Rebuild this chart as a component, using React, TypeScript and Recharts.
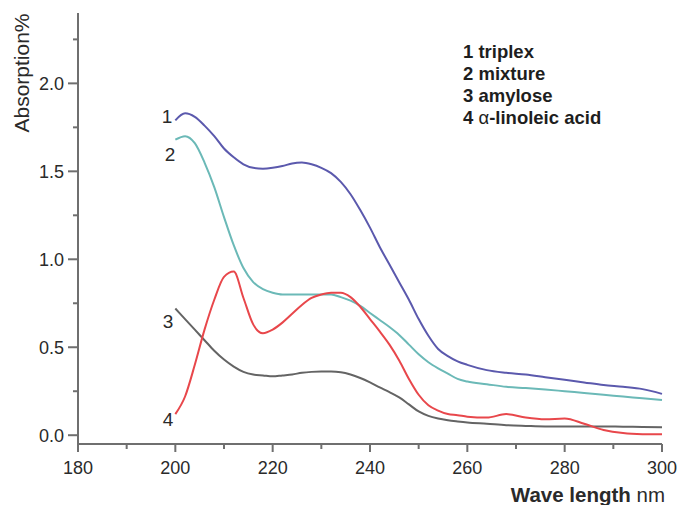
import { LineChart, Line, XAxis, YAxis, Label } from 'recharts';

const FONT = 'Arial, "Liberation Sans", Helvetica, sans-serif';

const wavelengths = [
  200, 202, 204, 206, 208, 210, 212, 214, 216, 218, 220, 222, 224, 226, 228, 230,
  232, 234, 236, 238, 240, 242, 244, 246, 248, 250, 252, 254, 256, 258, 260,
  264, 268, 272, 276, 280, 284, 288, 292, 296, 300,
];

// 1 triplex
const triplex = [
  1.79, 1.83, 1.81, 1.76, 1.7, 1.63, 1.58, 1.54, 1.52, 1.515, 1.52, 1.53, 1.545, 1.55, 1.54, 1.52,
  1.49, 1.44, 1.37, 1.28, 1.18, 1.07, 0.97, 0.87, 0.77, 0.66, 0.565, 0.49, 0.45, 0.42, 0.4,
  0.37, 0.355, 0.345, 0.33, 0.315, 0.3, 0.285, 0.275, 0.262, 0.235,
];

// 2 mixture
const mixture = [
  1.68, 1.7, 1.66, 1.55, 1.41, 1.24, 1.08, 0.95, 0.87, 0.83, 0.81, 0.8, 0.8, 0.8, 0.8, 0.8,
  0.8, 0.785, 0.765, 0.735, 0.695, 0.655, 0.615, 0.57, 0.515, 0.46, 0.415, 0.38, 0.35, 0.32, 0.305,
  0.29, 0.275, 0.268, 0.26, 0.25, 0.24, 0.23, 0.22, 0.21, 0.2,
];

// 3 amylose
const amylose = [
  0.72, 0.66, 0.6, 0.54, 0.48, 0.43, 0.39, 0.36, 0.345, 0.34, 0.335, 0.34, 0.345, 0.355, 0.36, 0.362,
  0.362, 0.358, 0.345, 0.325, 0.3, 0.272, 0.245, 0.215, 0.175, 0.135, 0.11, 0.095, 0.085, 0.078, 0.072,
  0.065, 0.057, 0.053, 0.05, 0.05, 0.05, 0.05, 0.048, 0.047, 0.045,
];

// 4 alpha-linoleic acid
const linoleic = [
  0.12, 0.22, 0.4, 0.6, 0.77, 0.9, 0.93, 0.78, 0.63, 0.58, 0.6, 0.64, 0.69, 0.74, 0.78, 0.8,
  0.81, 0.81, 0.785, 0.73, 0.66, 0.59, 0.515, 0.425, 0.32, 0.23, 0.17, 0.14, 0.12, 0.114, 0.105,
  0.1, 0.12, 0.1, 0.09, 0.095, 0.065, 0.03, 0.012, 0.006, 0.005,
];

const xTicks = [180, 190, 200, 210, 220, 230, 240, 250, 260, 270, 280, 290, 300];
const yTicks = [0, 0.25, 0.5, 0.75, 1, 1.25, 1.5, 1.75, 2, 2.25];

const legendItems = ['1 triplex', '2 mixture', '3 amylose', '4 \u03b1-linoleic acid'];

const rows = wavelengths.map((wl, i) => ({
  wl,
  triplex: triplex[i],
  mixture: mixture[i],
  amylose: amylose[i],
  linoleic: linoleic[i],
}));

const series = [
  { key: 'triplex', color: '#5b59ad', tag: '1', dx: -3, dy: 3 },
  { key: 'mixture', color: '#6bb9b7', tag: '2', dx: 0, dy: 21 },
  { key: 'amylose', color: '#646464', tag: '3', dx: -2, dy: 19 },
  { key: 'linoleic', color: '#e8474b', tag: '4', dx: -2, dy: 12 },
];

const AXIS = '#6f6f6f';
const TEXT = '#2a2a2a';

const XTick = (props: any) => {
  const { x, y, payload } = props;
  const major = payload.value % 20 === 0;
  return (
    <g>
      <line x1={x} x2={x} y1={y} y2={y + (major ? 8 : 5)} stroke={AXIS} strokeWidth={2} />
      {major && (
        <text x={x} y={y + 30} textAnchor="middle" fontSize={18} fill={TEXT} fontFamily={FONT}>
          {payload.value}
        </text>
      )}
    </g>
  );
};

const YTick = (props: any) => {
  const { x, y, payload } = props;
  const v = payload.value;
  const major = Math.abs(v * 2 - Math.round(v * 2)) < 1e-6;
  return (
    <g>
      <line x1={x - (major ? 10 : 5)} x2={x} y1={y} y2={y} stroke={AXIS} strokeWidth={2} />
      {major && (
        <text x={x - 14} y={y + 6.5} textAnchor="end" fontSize={18} fill={TEXT} fontFamily={FONT}>
          {v.toFixed(1)}
        </text>
      )}
    </g>
  );
};

const tagLabel = (tag: string, dx: number, dy: number) => (props: any) => {
  const { x, y, index } = props;
  if (index !== 0) return null;
  return (
    <text x={x + dx} y={y + dy} textAnchor="end" fontSize={19} fill={TEXT} fontFamily={FONT}>
      {tag}
    </text>
  );
};

const App = () => {
  return (
    <div
      style={{
        position: 'absolute',
        left: 0,
        top: 0,
        width: 681,
        height: 505,
        background: '#fff',
        fontFamily: FONT,
      }}
    >
      <LineChart width={681} height={505} data={rows} margin={{ top: 13, right: 19, bottom: 0, left: 18 }}>
        <XAxis
          dataKey="wl"
          type="number"
          domain={[180, 300]}
          ticks={xTicks}
          interval={0}
          height={61}
          tickSize={0}
          tickMargin={0}
          tickLine={false}
          tick={<XTick />}
          axisLine={{ stroke: AXIS, strokeWidth: 2 }}
        >
          <Label
            content={() => (
              <text x={665} y={502} textAnchor="end" fontSize={20.5} fill={TEXT} fontFamily={FONT}>
                <tspan fontWeight="bold">Wave length</tspan>
                <tspan> nm</tspan>
              </text>
            )}
          />
        </XAxis>
        <YAxis
          type="number"
          domain={[-0.05, 2.4]}
          ticks={yTicks}
          interval={0}
          width={60}
          tickSize={0}
          tickMargin={0}
          tickLine={false}
          tick={<YTick />}
          axisLine={{ stroke: AXIS, strokeWidth: 2 }}
        >
          <Label
            content={() => (
              <text
                x={29}
                y={73}
                transform="rotate(-90, 29, 73)"
                textAnchor="middle"
                fontSize={21}
                fill={TEXT}
                fontFamily={FONT}
              >
                Absorption%
              </text>
            )}
          />
        </YAxis>
        {series.map((s) => (
          <Line
            key={s.key}
            dataKey={s.key}
            type="monotone"
            stroke={s.color}
            strokeWidth={2}
            dot={false}
            isAnimationActive={false}
            label={tagLabel(s.tag, s.dx, s.dy)}
          />
        ))}
      </LineChart>
      <div
        style={{
          position: 'absolute',
          left: 463,
          top: 41,
          fontSize: 18.5,
          fontWeight: 'bold',
          lineHeight: '22px',
          color: '#1e1e1e',
        }}
      >
        {legendItems.map((t) => (
          <div key={t}>
            {t.includes('\u03b1') ? (
              <>
                {t.slice(0, 2)}
                <span style={{ fontWeight: 'normal' }}>{'\u03b1'}</span>
                {t.slice(3)}
              </>
            ) : (
              t
            )}
          </div>
        ))}
      </div>
    </div>
  );
};

export default App;
